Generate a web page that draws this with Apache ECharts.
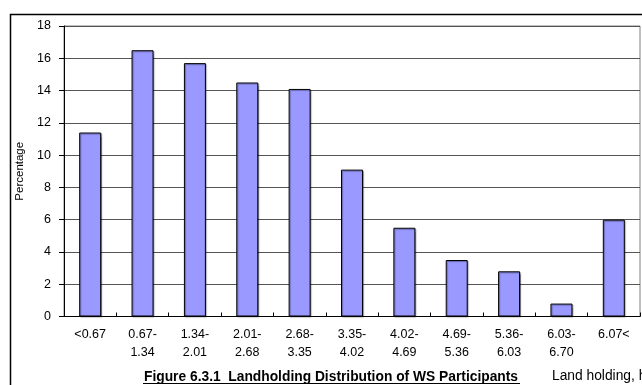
<!DOCTYPE html>
<html>
<head>
<meta charset="utf-8">
<script src="https://cdn.jsdelivr.net/npm/echarts@6/dist/echarts.min.js"></script>
<style>html,body{margin:0;padding:0;background:#fff;}#c{width:642px;height:385px;}</style>
</head>
<body>
<div id="c"></div>
<script>
const categories = ['<0.67','0.67-\n1.34','1.34-\n2.01','2.01-\n2.68','2.68-\n3.35','3.35-\n4.02','4.02-\n4.69','4.69-\n5.36','5.36-\n6.03','6.03-\n6.70','6.07<'];
const percentages = [11.4, 16.5, 15.7, 14.5, 14.1, 9.1, 5.5, 3.5, 2.8, 0.8, 6.0];
const yTicks = [0, 2, 4, 6, 8, 10, 12, 14, 16, 18];
const titleText = 'Figure 6.3.1  Landholding Distribution of WS Participants';
const xAxisTitle = 'Land holding, ha';
const yAxisTitle = 'Percentage';

const chart = echarts.init(document.getElementById('c'), null, {renderer: 'canvas'});
const font = 'Liberation Sans, Arial, sans-serif';
chart.setOption({
  animation: false,
  grid: {left: 64, top: 26, right: 2, bottom: 68.5, show: true, borderColor: '#808080', borderWidth: 1},
  xAxis: {
    type: 'category',
    data: categories,
    axisLine: {lineStyle: {color: '#000', width: 1}},
    axisTick: {show: true, inside: true, length: 4, lineStyle: {color: '#000'}},
    axisLabel: {color: '#000', fontFamily: font, fontSize: 12.5, lineHeight: 18, margin: 9, interval: 0}
  },
  yAxis: {
    type: 'value',
    min: yTicks[0],
    max: yTicks[yTicks.length - 1],
    interval: 2,
    name: yAxisTitle,
    nameLocation: 'middle',
    nameGap: 38,
    nameTextStyle: {color: '#000', fontFamily: font, fontSize: 11.5},
    axisLine: {show: true, lineStyle: {color: '#000', width: 1}},
    axisTick: {show: true, length: 5, lineStyle: {color: '#000'}},
    axisLabel: {color: '#000', fontFamily: font, fontSize: 12.5, margin: 13},
    splitLine: {lineStyle: {color: '#555', width: 1}}
  },
  series: [{
    type: 'bar',
    data: percentages,
    barWidth: '42%',
    itemStyle: {color: '#9999FF', borderColor: '#000', borderWidth: 1, shadowColor: 'rgba(0,0,0,0.35)', shadowOffsetX: 1, shadowOffsetY: 1, shadowBlur: 1}
  }],
  graphic: [
    {type: 'rect', shape: {x: 10.5, y: 14.5, width: 700, height: 400}, style: {fill: null, stroke: '#000', lineWidth: 1.5}, silent: true, z: 100},
    {type: 'text', x: 331, y: 377, style: {text: titleText, fill: '#000', font: 'bold 13.8px ' + font, align: 'center', verticalAlign: 'middle'}, z: 100},
    {type: 'line', shape: {x1: 143, y1: 383.5, x2: 520, y2: 383.5}, style: {stroke: '#000', lineWidth: 1}, z: 100},
    {type: 'text', x: 552, y: 376, style: {text: xAxisTitle, fill: '#000', font: '13.8px ' + font, verticalAlign: 'middle'}, z: 100}
  ]
});
</script>
</body>
</html>
